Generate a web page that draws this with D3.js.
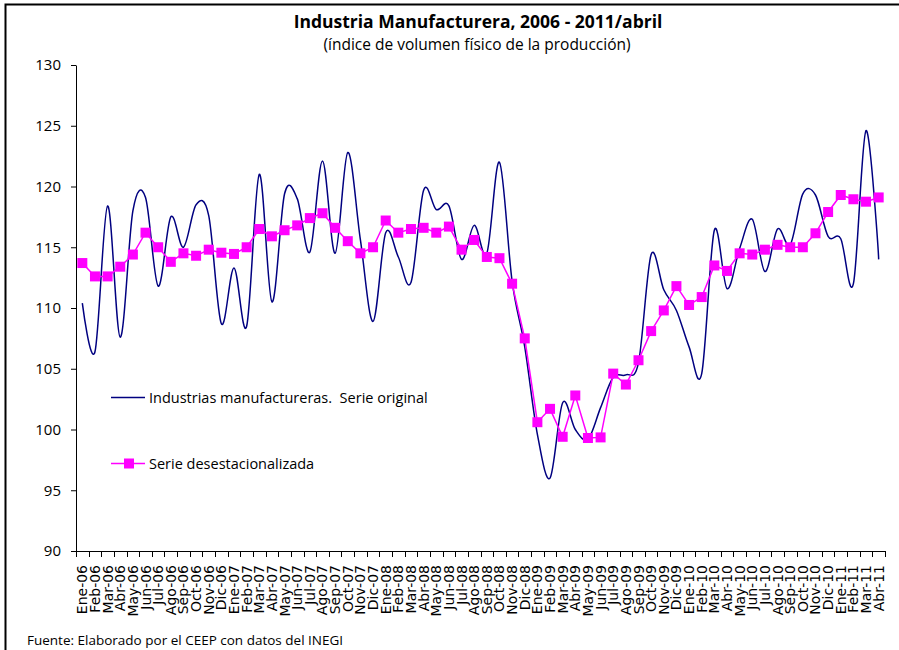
<!DOCTYPE html>
<html>
<head>
<meta charset="utf-8">
<script src="https://cdn.jsdelivr.net/npm/d3@7"></script>
<style>
  body { margin: 0; background: #fff; }
  svg { display: block; }
</style>
</head>
<body>
<div id="svg-container"></div>
<script>
// categories (months)
var months = ["Ene-06","Feb-06","Mar-06","Abr-06","May-06","Jun-06","Jul-06","Ago-06","Sep-06","Oct-06","Nov-06","Dic-06",
              "Ene-07","Feb-07","Mar-07","Abr-07","May-07","Jun-07","Jul-07","Ago-07","Sep-07","Oct-07","Nov-07","Dic-07",
              "Ene-08","Feb-08","Mar-08","Abr-08","May-08","Jun-08","Jul-08","Ago-08","Sep-08","Oct-08","Nov-08","Dic-08",
              "Ene-09","Feb-09","Mar-09","Abr-09","May-09","Jun-09","Jul-09","Ago-09","Sep-09","Oct-09","Nov-09","Dic-09",
              "Ene-10","Feb-10","Mar-10","Abr-10","May-10","Jun-10","Jul-10","Ago-10","Sep-10","Oct-10","Nov-10","Dic-10",
              "Ene-11","Feb-11","Mar-11","Abr-11"];

// Industrias manufactureras. Serie original
var original = [110.4, 106.4, 118.4, 107.6, 118.0, 119.1, 111.8, 117.5, 115.0, 118.5, 117.6, 108.7,
                113.3, 108.5, 121.0, 110.5, 119.4, 119.0, 114.6, 122.1, 114.5, 122.8, 115.6, 108.9,
                116.2, 114.2, 112.1, 119.7, 118.1, 118.4, 114.0, 116.8, 114.5, 122.0, 112.2, 106.8,
                99.6, 96.0, 102.2, 100.0, 99.2, 101.8, 104.3, 104.5, 105.5, 114.4, 111.5, 109.8,
                106.8, 104.6, 116.4, 111.6, 114.9, 117.3, 113.0, 116.5, 115.2, 119.4, 119.3, 115.9,
                115.7, 112.0, 124.6, 114.0];

// Serie desestacionalizada
var desest = [113.7, 112.6, 112.6, 113.4, 114.4, 116.2, 115.0, 113.8, 114.5, 114.3, 114.8, 114.55,
              114.45, 115.0, 116.5, 115.9, 116.4, 116.8, 117.4, 117.8, 116.6, 115.5, 114.5, 115.0,
              117.2, 116.2, 116.5, 116.6, 116.2, 116.7, 114.8, 115.6, 114.2, 114.1, 112.0, 107.5,
              100.6, 101.7, 99.4, 102.8, 99.3, 99.35, 104.6, 103.7, 105.7, 108.1, 109.8, 111.8,
              110.25, 110.9, 113.5, 113.05, 114.5, 114.4, 114.8, 115.2, 115.0, 115.0, 116.15, 117.9,
              119.3, 118.95, 118.75, 119.1];

var yTicks = [90, 95, 100, 105, 110, 115, 120, 125, 130];

var width = 899,
    height = 650;

var svg = d3.select("#svg-container")
  .append("svg")
    .attr("width", width)
    .attr("height", height)
    .attr("font-family", "'Open Sans', sans-serif");

// outer frame (runs off the right and bottom edges)
svg.append("rect")
    .attr("x", 5.5).attr("y", 4.5)
    .attr("width", 1200).attr("height", 1200)
    .attr("fill", "none")
    .attr("stroke", "#000")
    .attr("stroke-width", 2);

svg.append("text")
    .attr("x", 478).attr("y", 28)
    .attr("text-anchor", "middle")
    .attr("font-weight", "bold")
    .attr("font-size", 17.5)
    .text("Industria Manufacturera, 2006 - 2011/abril");

svg.append("text")
    .attr("x", 477).attr("y", 50)
    .attr("text-anchor", "middle")
    .attr("font-size", 15.5)
    .text("(índice de volumen físico de la producción)");

var x = d3.scaleBand()
    .domain(months)
    .range([76, 885])
    .padding(0);

var y = d3.scaleLinear()
    .domain([90, 130])
    .range([551, 65]);

var cx = function(d, i) { return x(months[i]) + x.bandwidth() / 2; };

// y axis
var yAxis = svg.append("g")
    .attr("transform", "translate(76,0)")
    .call(d3.axisLeft(y).tickValues(yTicks).tickSize(5).tickPadding(10).tickSizeOuter(0));
yAxis.selectAll("text")
    .attr("font-family", "'Open Sans', sans-serif")
    .attr("font-size", 15)
    .attr("fill", "#000");
yAxis.selectAll("line, path").attr("stroke", "#000");

// x axis: ticks between categories, labels centered in bands
var xg = svg.append("g");
xg.append("line")
    .attr("x1", 76).attr("x2", 885)
    .attr("y1", 551.5).attr("y2", 551.5)
    .attr("stroke", "#000");
xg.selectAll(".xtick")
  .data(months.concat(["end"]))
  .enter().append("line")
    .attr("class", "xtick")
    .attr("x1", function(d, i) { return Math.round(76 + i * x.step()) + 0.5; })
    .attr("x2", function(d, i) { return Math.round(76 + i * x.step()) + 0.5; })
    .attr("y1", 551).attr("y2", 557)
    .attr("stroke", "#000");
xg.selectAll(".xlabel")
  .data(months)
  .enter().append("text")
    .attr("class", "xlabel")
    .attr("transform", function(d) {
      return "translate(" + (x(d) + x.bandwidth() / 2 + 5) + ",565) rotate(-90)";
    })
    .attr("text-anchor", "end")
    .attr("font-family", "'DejaVu Sans', sans-serif")
    .attr("font-size", 14)
    .text(function(d) { return d; });

// original series, smoothed like the spreadsheet line
var lineOrig = d3.line()
    .x(cx)
    .y(function(d) { return y(d); })
    .curve(d3.curveCardinal.tension(0));

svg.append("path")
    .datum(original)
    .attr("d", lineOrig)
    .attr("fill", "none")
    .attr("stroke", "#000080")
    .attr("stroke-width", 1.5);

var lineDes = d3.line()
    .x(cx)
    .y(function(d) { return y(d); });

svg.append("path")
    .datum(desest)
    .attr("d", lineDes)
    .attr("fill", "none")
    .attr("stroke", "#FF00FF")
    .attr("stroke-width", 1.5);

svg.selectAll(".marker")
  .data(desest)
  .enter().append("rect")
    .attr("class", "marker")
    .attr("x", function(d, i) { return cx(d, i) - 5; })
    .attr("y", function(d) { return y(d) - 5; })
    .attr("width", 10)
    .attr("height", 10)
    .attr("fill", "#FF00FF");

// legend
var legend = svg.append("g").attr("font-size", 14.5);
legend.append("line")
    .attr("x1", 111).attr("x2", 145)
    .attr("y1", 397.5).attr("y2", 397.5)
    .attr("stroke", "#000080").attr("stroke-width", 1.5);
legend.append("text")
    .attr("x", 149).attr("y", 403)
    .attr("xml:space", "preserve")
    .text("Industrias manufactureras.  Serie original");
legend.append("line")
    .attr("x1", 111).attr("x2", 145)
    .attr("y1", 463.5).attr("y2", 463.5)
    .attr("stroke", "#FF00FF").attr("stroke-width", 1.5);
legend.append("rect")
    .attr("x", 124).attr("y", 458.5)
    .attr("width", 10).attr("height", 10)
    .attr("fill", "#FF00FF");
legend.append("text")
    .attr("x", 149).attr("y", 469)
    .text("Serie desestacionalizada");

svg.append("text")
    .attr("x", 27).attr("y", 645)
    .attr("font-size", 13.5)
    .text("Fuente: Elaborado por el CEEP con datos del INEGI");
</script>
</body>
</html>
